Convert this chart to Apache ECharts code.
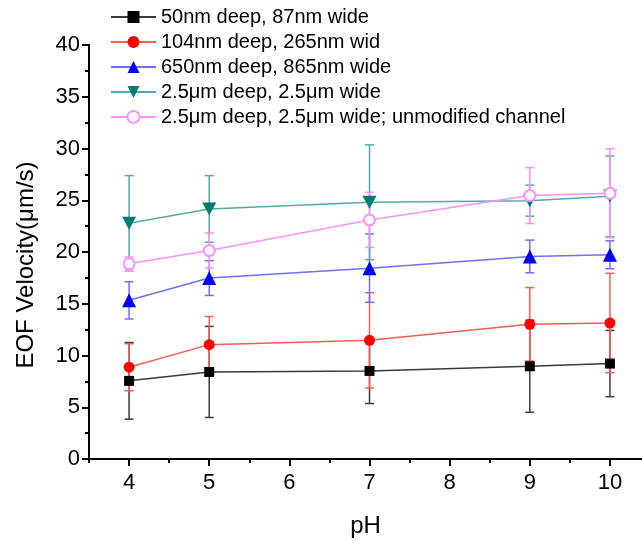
<!DOCTYPE html>
<html>
<head>
<meta charset="utf-8">
<script src="https://cdn.jsdelivr.net/npm/echarts@6/dist/echarts.min.js"></script>
<style>
  html, body { margin: 0; padding: 0; background: #fff; }
  #chart { width: 642px; height: 543px; }
</style>
</head>
<body>
<div id="chart"></div>
<script>
// pH values where EOF velocity was measured
const PH = [4, 5, 7, 9, 10];

// series names
const NAMES = [
  '50nm deep, 87nm wide',
  '104nm deep, 265nm wid',
  '650nm deep, 865nm wide',
  '2.5\u03bcm deep, 2.5\u03bcm wide',
  '2.5\u03bcm deep, 2.5\u03bcm wide; unmodified channel'
];

// mean EOF velocity (um/s) and error bar half-widths
const V_50NM   = [7.55, 8.41, 8.51, 8.96, 9.22];
const E_50NM   = [3.70, 4.40, 3.15, 4.45, 3.20];
const V_104NM  = [8.87, 11.05, 11.47, 13.01, 13.14];
const E_104NM  = [2.27, 2.72, 4.60, 3.55, 4.80];
const V_650NM  = [15.33, 17.48, 18.44, 19.57, 19.73];
const E_650NM  = [1.80, 1.68, 3.30, 1.58, 1.35];
const V_25UM   = [22.78, 24.16, 24.80, 24.96, 25.38];
const E_25UM   = [4.60, 3.22, 5.55, 1.50, 3.90];
const V_25UM_U = [18.86, 20.14, 23.10, 25.45, 25.67];
const E_25UM_U = [0.65, 1.70, 2.66, 2.70, 4.30];

// axis ticks
const X_MAJOR = [4, 5, 6, 7, 8, 9, 10];
const X_MINOR = [3.5, 4.5, 5.5, 6.5, 7.5, 8.5, 9.5];

const FONT = 'Liberation Sans, Arial, sans-serif';

const STYLES = [
  { line: '#3a3a3a', marker: '#000000', symbol: 'rect', size: 10 },
  { line: '#ff5a5a', marker: '#ff0000', symbol: 'circle', size: 11 },
  { line: '#6f6fff', marker: '#0000ff', symbol: 'triangle', size: 14 },
  { line: '#55aaa4', marker: '#007b76', symbol: 'path://M0,0 L10,0 L5,9 Z', size: [14, 13] },
  { line: '#ff90ff', marker: '#ff90ff', symbol: 'emptyCircle', size: 11 }
];

const VALUES = [V_50NM, V_104NM, V_650NM, V_25UM, V_25UM_U];
const ERRORS = [E_50NM, E_104NM, E_650NM, E_25UM, E_25UM_U];

function errorBars(i) {
  const vals = VALUES[i], errs = ERRORS[i], color = STYLES[i].line;
  return {
    type: 'custom',
    name: 'err' + i,
    xAxisIndex: 0,
    yAxisIndex: 0,
    z: 1,
    silent: true,
    encode: { x: 0, y: [1, 2] },
    data: PH.map((x, k) => [x, vals[k] - errs[k], vals[k] + errs[k]]),
    renderItem(params, api) {
      const x = api.value(0);
      const lo = api.coord([x, api.value(1)]);
      const hi = api.coord([x, api.value(2)]);
      const hw = 4.5;
      const style = { stroke: color, lineWidth: 1.5, fill: null };
      return {
        type: 'group',
        children: [
          { type: 'line', shape: { x1: lo[0], y1: lo[1], x2: hi[0], y2: hi[1] }, style },
          { type: 'line', shape: { x1: lo[0] - hw, y1: lo[1], x2: lo[0] + hw, y2: lo[1] }, style },
          { type: 'line', shape: { x1: hi[0] - hw, y1: hi[1], x2: hi[0] + hw, y2: hi[1] }, style }
        ]
      };
    }
  };
}

function lineSeries(i) {
  const s = STYLES[i];
  return {
    type: 'line',
    name: NAMES[i],
    xAxisIndex: 0,
    yAxisIndex: 0,
    z: 3 + i,
    data: PH.map((x, k) => [x, VALUES[i][k]]),
    symbol: s.symbol,
    symbolSize: s.size,
    showAllSymbol: true,
    lineStyle: { color: s.line, width: 1.5 },
    itemStyle: { color: s.marker, borderColor: s.marker, borderWidth: s.symbol === 'emptyCircle' ? 1.5 : 0 },
    emphasis: { disabled: true },
    animation: false
  };
}

const series = [];
for (let i = 0; i < NAMES.length; i++) series.push(errorBars(i));
for (let i = 0; i < NAMES.length; i++) series.push(lineSeries(i));

const axisColor = '#000';

const chart = echarts.init(document.getElementById('chart'), null, { renderer: 'canvas' });
chart.setOption({
  animation: false,
  backgroundColor: '#fff',
  grid: { left: 89, top: 45, bottom: 84, right: 0, containLabel: false },
  legend: {
    data: NAMES,
    orient: 'vertical',
    left: 110,
    top: 7,
    padding: 0,
    itemWidth: 45,
    itemHeight: 15,
    itemGap: 5,
    selectedMode: false,
    textStyle: { fontFamily: FONT, fontSize: 20, color: '#000' }
  },
  xAxis: [
    {
      type: 'value',
      min: 3.5,
      max: 10.4,
      name: 'pH',
      nameLocation: 'middle',
      nameGap: 55,
      nameTextStyle: { fontFamily: FONT, fontSize: 24, color: '#000' },
      axisLine: { show: true, lineStyle: { color: axisColor, width: 2 } },
      axisTick: { show: true, customValues: X_MAJOR, length: 7, inside: false, lineStyle: { color: axisColor, width: 2 } },
      axisLabel: { customValues: X_MAJOR, margin: 13, fontFamily: FONT, fontSize: 22, color: '#000' },
      splitLine: { show: false }
    },
    {
      type: 'value',
      min: 3.5,
      max: 10.4,
      position: 'bottom',
      axisLine: { show: false },
      axisTick: { show: true, customValues: X_MINOR, length: 4, lineStyle: { color: axisColor, width: 2 } },
      axisLabel: { show: false },
      splitLine: { show: false }
    }
  ],
  yAxis: {
    type: 'value',
    min: 0,
    max: 40,
    interval: 5,
    name: 'EOF Velocity(\u03bcm/s)',
    nameLocation: 'middle',
    nameGap: 51,
    nameTextStyle: { fontFamily: FONT, fontSize: 24, color: '#000', padding: [0, 26, 0, 0] },
    axisLine: { show: true, lineStyle: { color: axisColor, width: 2 } },
    axisTick: { show: true, length: 7, lineStyle: { color: axisColor, width: 2 } },
    minorTick: { show: true, splitNumber: 2, length: 4, lineStyle: { color: axisColor, width: 2 } },
    axisLabel: { margin: 9, fontFamily: FONT, fontSize: 22, color: '#000' },
    splitLine: { show: false },
    minorSplitLine: { show: false }
  },
  series
});
</script>
</body>
</html>
